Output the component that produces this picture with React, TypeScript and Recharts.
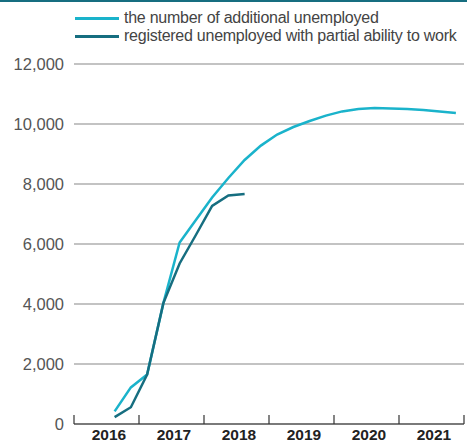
import { LineChart, Line, XAxis, YAxis, CartesianGrid } from 'recharts'

const periods = [
  '2016-Q3', '2016-Q4', '2017-Q1', '2017-Q2', '2017-Q3', '2017-Q4',
  '2018-Q1', '2018-Q2', '2018-Q3', '2018-Q4', '2019-Q1', '2019-Q2',
  '2019-Q3', '2019-Q4', '2020-Q1', '2020-Q2', '2020-Q3', '2020-Q4',
  '2021-Q1', '2021-Q2', '2021-Q3', '2021-Q4',
]
const additional = [
  420, 1220, 1650, 4030, 6050, 6800, 7550, 8200, 8800, 9280, 9650, 9900,
  10100, 10280, 10420, 10500, 10530, 10520, 10500, 10470, 10420, 10370,
]
const partial = [230, 560, 1650, 4030, 5350, 6300, 7270, 7620, 7670]
const years = ['2016', '2017', '2018', '2019', '2020', '2021']
const yTicks = [0, 2000, 4000, 6000, 8000, 10000, 12000]

const LIGHT = '#1ab3cb'
const DARK = '#166e80'
const FONT = '"Liberation Sans", Arial, sans-serif'

// position of a quarter on the year axis (middle of the quarter)
const toT = (p: string) => {
  const [y, q] = p.split('-Q')
  return Number(y) - 2016 + (Number(q) - 0.5) / 4
}

const data = periods.map((p, i) => ({
  t: toT(p),
  additional: additional[i],
  partial: i < partial.length ? partial[i] : null,
}))

const YearTick = (props: any) => {
  const { x, y, payload } = props
  const label = years[payload.value]
  return (
    <g>
      <line x1={x} x2={x} y1={y - 9} y2={y} stroke="#333" strokeWidth={1.2} />
      {label && (
        <text x={x + 35} y={y + 16} textAnchor="middle" fontSize={15.5} fontWeight={700} fill="#222" fontFamily={FONT}>
          {label}
        </text>
      )}
    </g>
  )
}

const legendItems = [
  { name: 'the number of additional unemployed', color: LIGHT },
  { name: 'registered unemployed with partial ability to work', color: DARK },
]

export default function App() {
  return (
    <div style={{ position: 'absolute', left: 0, top: 0, width: 467, height: 442, background: '#fff' }}>
      <div style={{ position: 'absolute', left: 0, top: 0, width: 467, height: 2, background: DARK }} />
      <div style={{ position: 'absolute', left: 75, top: 9, fontFamily: FONT, fontSize: 16, letterSpacing: -0.25, color: '#444', zIndex: 2 }}>
        {legendItems.map(item => (
          <div key={item.name} style={{ display: 'flex', alignItems: 'center', height: 18, whiteSpace: 'nowrap' }}>
            <div style={{ width: 44, height: 3, background: item.color, marginRight: 5 }} />
            <span>{item.name}</span>
          </div>
        ))}
      </div>
      <LineChart width={467} height={442} data={data} margin={{ top: 64, right: 3, bottom: 0, left: 0 }}>
        <CartesianGrid vertical={false} stroke="#888" strokeWidth={1.2} />
        <XAxis
          dataKey="t"
          type="number"
          domain={[0, 6]}
          ticks={[0, 1, 2, 3, 4, 5, 6]}
          interval={0}
          height={18}
          tickSize={0}
          tickMargin={0}
          tickLine={false}
          tick={<YearTick />}
          axisLine={{ stroke: '#333', strokeWidth: 1.2 }}
        />
        <YAxis
          width={74}
          domain={[0, 12000]}
          ticks={yTicks}
          interval={0}
          axisLine={false}
          tickLine={false}
          tickMargin={4}
          tickFormatter={(v: number) => v.toLocaleString('en-US')}
          tick={{ fontSize: 16.5, fill: '#555', fontFamily: FONT }}
        />
        <Line dataKey="additional" stroke={LIGHT} strokeWidth={2.5} dot={false} isAnimationActive={false} />
        <Line dataKey="partial" stroke={DARK} strokeWidth={2.5} dot={false} isAnimationActive={false} connectNulls={false} />
      </LineChart>
    </div>
  )
}
